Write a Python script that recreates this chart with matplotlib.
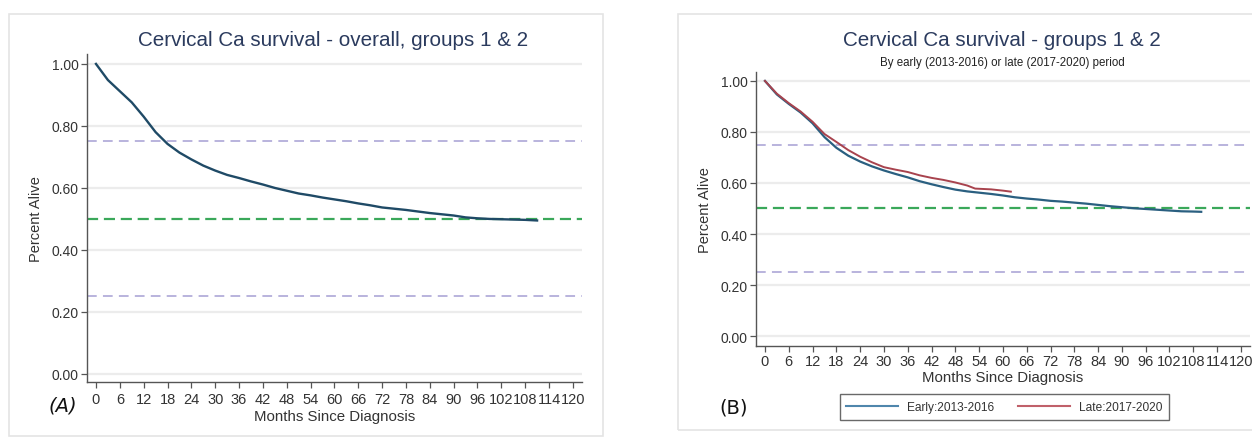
import matplotlib
matplotlib.use("Agg")
import matplotlib.pyplot as plt
from matplotlib.patches import Rectangle
from matplotlib.lines import Line2D

plt.rcParams['font.family'] = ['Liberation Sans', 'DejaVu Sans']

# ---------------- data ----------------
overall_months = [0, 3, 6, 9, 12, 15, 18, 21, 24, 27, 30, 33, 36, 39, 42, 45, 48, 51,
                  54, 57, 60, 63, 66, 69, 72, 75, 78, 81, 84, 87, 90, 93, 96, 99,
                  102, 105, 108, 111]
overall_surv = [1.000, 0.948, 0.912, 0.876, 0.830, 0.780, 0.742, 0.714, 0.692, 0.672,
                0.656, 0.642, 0.632, 0.621, 0.611, 0.600, 0.591, 0.582, 0.576, 0.569,
                0.563, 0.557, 0.550, 0.544, 0.537, 0.533, 0.529, 0.524, 0.519, 0.515,
                0.511, 0.505, 0.502, 0.500, 0.499, 0.498, 0.497, 0.495]

early_months = [0, 3, 6, 9, 12, 15, 18, 21, 24, 27, 30, 33, 36, 39, 42, 45, 48, 51,
                54, 57, 60, 63, 66, 69, 72, 75, 78, 81, 84, 87, 90, 93, 96, 99,
                102, 105, 108, 110]
early_surv = [1.000, 0.947, 0.910, 0.876, 0.834, 0.780, 0.738, 0.707, 0.684, 0.665,
              0.649, 0.635, 0.622, 0.607, 0.595, 0.584, 0.574, 0.567, 0.562, 0.557,
              0.551, 0.544, 0.539, 0.535, 0.530, 0.527, 0.523, 0.519, 0.514, 0.509,
              0.505, 0.501, 0.498, 0.495, 0.492, 0.489, 0.488, 0.487]

late_months = [0, 3, 6, 9, 12, 15, 18, 21, 24, 27, 30, 33, 36, 39, 42, 45, 48, 51,
               53, 57, 60, 62]
late_surv = [1.000, 0.950, 0.913, 0.880, 0.840, 0.792, 0.761, 0.729, 0.703, 0.681,
             0.662, 0.652, 0.643, 0.630, 0.620, 0.612, 0.602, 0.590, 0.578, 0.575,
             0.570, 0.566]

x_ticks = list(range(0, 121, 6))
y_ticks = [0.0, 0.2, 0.4, 0.6, 0.8, 1.0]
y_ticklabels = ["0.00", "0.20", "0.40", "0.60", "0.80", "1.00"]
ref_lines = [0.75, 0.25]
median_line = 0.5

titles = ["Cervical Ca survival - overall, groups 1 & 2",
          "Cervical Ca survival - groups 1 & 2"]
subtitle = "By early (2013-2016) or late (2017-2020) period"
legend_labels = ["Early:2013-2016", "Late:2017-2020"]
panel_tags = ["(A)", "(B)"]

# ---------------- figure ----------------
W, H = 1252, 439
fig = plt.figure(figsize=(W / 100, H / 100), dpi=100)
fig.patch.set_facecolor("white")

def fx(px):
    return px / W

def fy(py):
    return 1 - py / H

# faint panel frames
for (x0, y0, x1, y1) in [(9, 15, 603, 437), (678, 15, 1262, 431)]:
    fig.add_artist(Rectangle((fx(x0), fy(y1)), fx(x1 - x0), (y1 - y0) / H,
                             transform=fig.transFigure, fill=False,
                             edgecolor="#e4e4e4", linewidth=1.2))

TITLE_C = "#2b3b5e"
TXT_C = "#333333"
LAV = "#b9b3dd"
GRN = "#3aa85a"

def style_axes(ax, ylim, xpad, xlabelpad):
    ax.set_xlim(-2.26, 122.3)
    ax.set_ylim(*ylim)
    for s in ["top", "right"]:
        ax.spines[s].set_visible(False)
    for s in ["left", "bottom"]:
        ax.spines[s].set_color("#555555")
        ax.spines[s].set_linewidth(1.0)
    ax.set_xticks(x_ticks)
    ax.set_xticklabels([str(t) for t in x_ticks], fontsize=10.5, color=TXT_C)
    ax.set_yticks(y_ticks)
    ax.set_yticklabels(y_ticklabels, fontsize=10, color=TXT_C)
    ax.tick_params(axis="both", direction="out", length=4, width=0.9,
                   color="#555555", pad=2)
    ax.tick_params(axis="x", pad=xpad)
    for yv in y_ticks:
        ax.axhline(yv, color="#ececec", linewidth=1.6, zorder=0)
    for yv in ref_lines:
        ax.axhline(yv, color=LAV, linewidth=1.4, dashes=(5, 3.2), zorder=1)
    ax.axhline(median_line, color=GRN, linewidth=1.6, dashes=(5, 2.6), zorder=1)
    ax.set_xlabel("Months Since Diagnosis", fontsize=10.8, color=TXT_C,
                  labelpad=xlabelpad)
    ax.set_ylabel("Percent Alive", fontsize=10.5, color=TXT_C, labelpad=6)

# ---- Panel A ----
axA = fig.add_axes([fx(87), fy(383), fx(582 - 87), (383 - 55) / H])
style_axes(axA, (-0.026, 1.032), 3.5, 2)
axA.plot(overall_months, overall_surv, color="#1f4a66", linewidth=1.7, zorder=3)
fig.text(fx(333), fy(41), titles[0], fontsize=14.9, color=TITLE_C,
         ha="center", va="center")
fig.text(fx(63), fy(406), panel_tags[0], fontsize=14, color="#111111",
         ha="center", va="center", family=["DejaVu Sans"], style="italic")

# ---- Panel B ----
axB = fig.add_axes([fx(756), fy(347), fx(1250 - 756), (347 - 73) / H])
style_axes(axB, (-0.039, 1.035), 2, 1)
axB.plot(early_months, early_surv, color="#2a5f80", linewidth=1.6, zorder=3)
axB.plot(late_months, late_surv, color="#a8434e", linewidth=1.4, zorder=4)
fig.text(fx(1002), fy(41), titles[1], fontsize=14.9, color=TITLE_C,
         ha="center", va="center")
fig.text(fx(1002), fy(63), subtitle, fontsize=8.3, color="#222222",
         ha="center", va="center")
fig.text(fx(734), fy(408), panel_tags[1], fontsize=14, color="#111111",
         ha="center", va="center", family=["DejaVu Sans"])

handles = [Line2D([], [], color="#4f86ac", linewidth=1.5),
           Line2D([], [], color="#c0606a", linewidth=1.5)]
leg = fig.legend(handles, legend_labels, loc="center",
                 bbox_to_anchor=(fx(1004.5), fy(408)), ncol=2,
                 fontsize=8.6, frameon=True, fancybox=False,
                 handlelength=4.3, handletextpad=0.8, columnspacing=2.0,
                 borderpad=0.55, borderaxespad=0)
leg.get_frame().set_edgecolor("#444444")
leg.get_frame().set_linewidth(1.0)
for t in leg.get_texts():
    t.set_color(TXT_C)

fig.savefig("out.png", dpi=100)
